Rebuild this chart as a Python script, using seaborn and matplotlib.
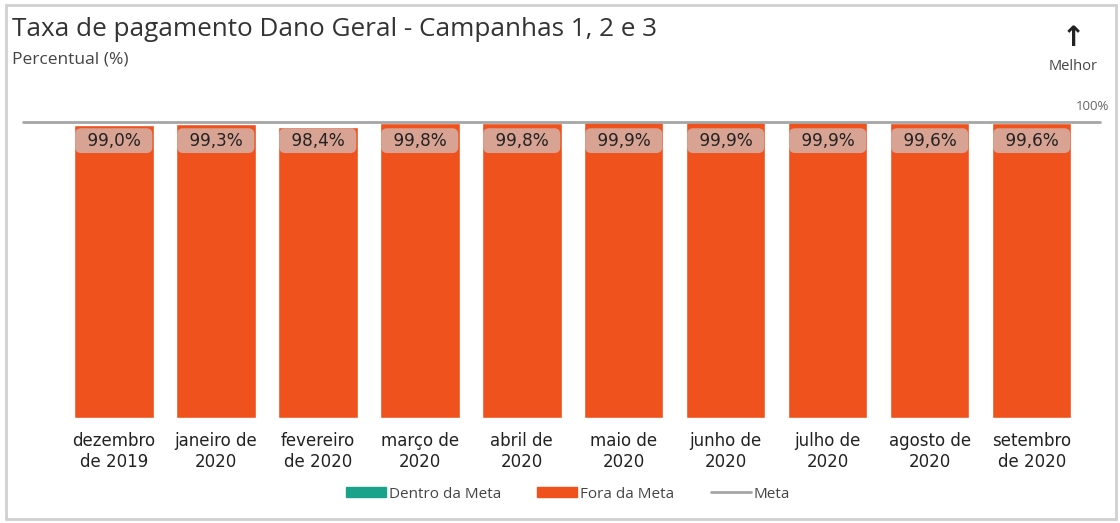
import matplotlib
matplotlib.use("Agg")
import matplotlib.pyplot as plt
import matplotlib.patches as mpatches
from matplotlib.lines import Line2D
import seaborn as sns
import pandas as pd

meses = ["dezembro\nde 2019", "janeiro de\n2020", "fevereiro\nde 2020", "março de\n2020",
         "abril de\n2020", "maio de\n2020", "junho de\n2020", "julho de\n2020",
         "agosto de\n2020", "setembro\nde 2020"]
taxa = [99.0, 99.3, 98.4, 99.8, 99.8, 99.9, 99.9, 99.9, 99.6, 99.6]
meta = 100

laranja = "#F0521E"
verde = "#1AA38A"
cinza = "#A6A6A6"

df = pd.DataFrame({"mes": meses, "taxa": taxa})

sns.set_style("white")
plt.rcParams["font.family"] = ["DejaVu Sans"]
dejavu = "DejaVu Sans"
sans = ["Open Sans", "DejaVu Sans"]

fig = plt.figure(figsize=(11.2, 5.23), dpi=100)
ax = fig.add_axes([23 / 1120, 1 - 418 / 523, 1077 / 1120, (418 - 122) / 523])

sns.barplot(data=df, x="mes", y="taxa", color=laranja, width=0.78, ax=ax, saturation=1)
ax.set_xlim(-0.89, 9.67)
ax.set_ylim(0, meta)
ax.axhline(meta, color=cinza, lw=2, clip_on=False, zorder=5)

# rótulos com caixa arredondada (en-spaces para alargar a caixa)
for i, v in enumerate(taxa):
    rotulo = "\u2002" + f"{v:.1f}%".replace(".", ",") + "\u2002"
    ax.text(i, meta - 6.3, rotulo, ha="center", va="center",
            fontsize=12.2, family=dejavu, color="#222222",
            bbox=dict(boxstyle="round,pad=0.2,rounding_size=0.35", fc="#D9A393", ec="none"))

ax.set_xlabel("")
ax.set_ylabel("")
ax.set_yticks([])
ax.tick_params(axis="x", length=0, pad=10)
for lbl in ax.get_xticklabels():
    lbl.set_fontfamily(dejavu)
    lbl.set_fontsize(12)
    lbl.set_color("#222222")
sns.despine(ax=ax, left=True, bottom=True)

# textos do cabeçalho
fig.text(12 / 1120, 1 - 30 / 523, "Taxa de pagamento Dano Geral - Campanhas 1, 2 e 3",
         fontsize=18.8, family=sans, color="#333333", va="center")
fig.text(12 / 1120, 1 - 60 / 523, "Percentual (%)", fontsize=12.5, family=sans,
         color="#444444", va="center")
fig.text(1073 / 1120, 1 - 38 / 523, "↑", fontsize=20, fontweight="bold", family=dejavu,
         color="#222222", ha="center", va="center")
fig.text(1073 / 1120, 1 - 67 / 523, "Melhor", fontsize=10.5, family=sans, color="#444444",
         ha="center", va="center")
fig.text(1109 / 1120, 1 - 107 / 523, "100%", fontsize=9.5, family=sans, color="#666666",
         ha="right", va="center")

# legenda
handles = [mpatches.Patch(color=verde, label="Dentro da Meta"),
           mpatches.Patch(color=laranja, label="Fora da Meta"),
           Line2D([0], [0], color=cinza, lw=2, label="Meta")]
fig.legend(handles=handles, loc="center", bbox_to_anchor=(568 / 1120, 1 - 494 / 523),
           ncol=3, frameon=False, prop={"family": sans, "size": 11},
           handlelength=2.6, handleheight=0.6, handletextpad=0.2, columnspacing=2.4,
           labelcolor="#444444")

# moldura
fig.patches.append(mpatches.Rectangle((6 / 1120, 4 / 523), 1110 / 1120, 514 / 523,
                                      transform=fig.transFigure, fill=False,
                                      ec="#D0D0D0", lw=2))

fig.savefig("out.png", dpi=100)
